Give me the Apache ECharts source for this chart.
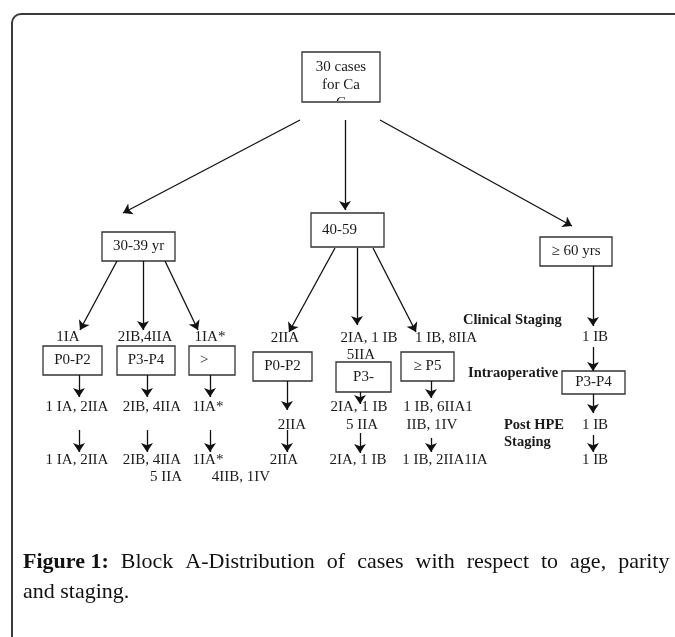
<!DOCTYPE html>
<html>
<head>
<meta charset="utf-8">
<script src="https://cdn.jsdelivr.net/npm/echarts@6/dist/echarts.min.js"></script>
<style>
  html, body { margin: 0; padding: 0; background: #fff; }
  #chart { width: 675px; height: 637px; }
</style>
</head>
<body>
<div id="chart"></div>
<script>
// diagram coordinates: x to the right, y downwards (page units)
const boxes = [
  // x1, y1, x2, y2, text, align
  [302, 52, 380, 102, '30 cases\nfor Ca\nC', 'center'],
  [102, 232, 175, 261, '30-39 yr', 'center'],
  [311, 213, 384, 247, '40-59', 'left'],
  [540, 237, 612, 266, '≥ 60 yrs', 'center'],
  [43, 346, 102, 375, 'P0-P2', 'center'],
  [117, 346, 175, 375, 'P3-P4', 'center'],
  [189, 346, 235, 375, '>', 'left'],
  [253, 352, 312, 381, 'P0-P2', 'center'],
  [336, 362, 391, 392, 'P3-', 'center'],
  [401, 352, 454, 381, '≥ P5', 'center'],
  [562, 371, 625, 394, 'P3-P4', 'center']
];

const arrows = [
  // from x, from y, to x, to y
  [300, 120, 123, 213],
  [345, 120, 345, 210],
  [380, 120, 572, 226],
  [117, 261, 80, 330],
  [143, 261, 143, 330],
  [165, 261, 198, 330],
  [335, 248, 289, 332],
  [357, 248, 357, 325],
  [373, 248, 416, 332],
  [593, 266, 593, 326],
  [593, 347, 593, 371],
  [593, 394, 593, 413],
  [593, 435, 593, 452],
  [79, 375, 79, 397],
  [147, 375, 147, 397],
  [210, 375, 210, 397],
  [79, 430, 79, 452],
  [147, 430, 147, 452],
  [210, 430, 210, 452],
  [287, 381, 287, 410],
  [287, 430, 287, 452],
  [360, 392, 360, 404],
  [360, 433, 360, 453],
  [431, 381, 431, 398],
  [431, 438, 431, 452]
];

const labels = [
  // x, y, text
  [68, 337, '1IA'],
  [145, 337, '2IB,4IIA'],
  [210, 337, '1IA*'],
  [285, 338, '2IIA'],
  [369, 338, '2IA, 1 IB'],
  [361, 355, '5IIA'],
  [446, 338, '1 IB, 8IIA'],
  [595, 337, '1 IB'],
  [77, 407, '1 IA, 2IIA'],
  [152, 407, '2IB, 4IIA'],
  [208, 407, '1IA*'],
  [292, 425, '2IIA'],
  [359, 407, '2IA, 1 IB'],
  [362, 425, '5 IIA'],
  [438, 407, '1 IB, 6IIA1'],
  [432, 425, 'IIB, 1IV'],
  [595, 425, '1 IB'],
  [77, 460, '1 IA, 2IIA'],
  [152, 460, '2IB, 4IIA'],
  [208, 460, '1IA*'],
  [284, 460, '2IIA'],
  [166, 477, '5 IIA'],
  [241, 477, '4IIB, 1IV'],
  [358, 460, '2IA, 1 IB'],
  [445, 460, '1 IB, 2IIA1IA'],
  [595, 460, '1 IB']
];

const stageLabels = [
  // x (left), y, text
  [463, 320, 'Clinical Staging'],
  [468, 373, 'Intraoperative'],
  [504, 425, 'Post HPE'],
  [504, 442, 'Staging']
];

const captionBold = 'Figure 1:';
const captionLine1 = 'Block A-Distribution of cases with respect to age, parity';
const captionLine2 = 'and staging.';

const FONT = '"Liberation Serif", "Times New Roman", serif';
const INK = '#1a1a1a';

// justified first caption line: words joined by wide spacer segments
const captionText =
  '{b|' + captionBold + '}{sp| }' +
  captionLine1.split(' ').map(w => '{n|' + w + '}').join('{sp| }') +
  '\n{n|' + captionLine2 + '}';

const chart = echarts.init(document.getElementById('chart'));

const option = {
  animation: false,
  backgroundColor: '#fff',
  grid: { left: 0, right: 0, top: 0, bottom: 0 },
  xAxis: { type: 'value', min: 0, max: 675, show: false },
  yAxis: { type: 'value', min: 0, max: 637, inverse: true, show: false },
  graphic: [
    {
      type: 'rect',
      shape: { x: 12, y: 14, width: 700, height: 660, r: [9, 0, 0, 0] },
      style: { fill: 'none', stroke: '#3a3a3a', lineWidth: 2 },
      z: 10
    },
    {
      type: 'text',
      left: 23,
      top: 551,
      style: {
        text: captionText,
        rich: {
          b: { fontFamily: FONT, fontSize: 22, fontWeight: 'bold', fill: '#111', lineHeight: 30 },
          n: { fontFamily: FONT, fontSize: 22, fill: '#111', lineHeight: 30 },
          sp: { fontFamily: FONT, fontSize: 22, width: 12, lineHeight: 30 }
        }
      },
      z: 10
    }
  ],
  series: [
    {
      type: 'custom',
      coordinateSystem: 'cartesian2d',
      data: boxes,
      renderItem: function (params, api) {
        const d = boxes[params.dataIndex];
        const p1 = api.coord([d[0], d[1]]);
        const p2 = api.coord([d[2], d[3]]);
        const w = p2[0] - p1[0];
        const h = p2[1] - p1[1];
        const multi = d[4].indexOf('\n') >= 0;
        return {
          type: 'group',
          children: [
            {
              type: 'rect',
              shape: { x: p1[0], y: p1[1], width: w, height: h },
              style: { fill: '#fff', stroke: '#333', lineWidth: 1.3 }
            },
            {
              type: 'group',
              clipPath: {
                type: 'rect',
                shape: { x: p1[0], y: p1[1], width: w, height: h - 1 }
              },
              children: [{
                type: 'text',
                x: d[5] === 'left' ? p1[0] + 11 : p1[0] + w / 2,
                y: multi ? p1[1] + 6 : p1[1] + h / 2,
                style: {
                  text: d[4],
                  fill: INK,
                  fontFamily: FONT,
                  fontSize: 15,
                  lineHeight: 18,
                  align: d[5] === 'left' ? 'left' : 'center',
                  verticalAlign: multi ? 'top' : 'middle'
                }
              }]
            }
          ]
        };
      },
      z: 3
    },
    {
      type: 'lines',
      coordinateSystem: 'cartesian2d',
      data: arrows.map(a => ({ coords: [[a[0], a[1]], [a[2], a[3]]] })),
      symbol: ['none', 'arrow'],
      symbolSize: [0, 9],
      lineStyle: { color: '#111', width: 1.3, opacity: 1 },
      z: 4
    },
    {
      type: 'custom',
      coordinateSystem: 'cartesian2d',
      data: labels,
      renderItem: function (params, api) {
        const d = labels[params.dataIndex];
        const p = api.coord([d[0], d[1]]);
        return {
          type: 'text',
          x: p[0],
          y: p[1],
          style: {
            text: d[2],
            fill: INK,
            fontFamily: FONT,
            fontSize: 15,
            align: 'center',
            verticalAlign: 'middle'
          }
        };
      },
      z: 5
    },
    {
      type: 'custom',
      coordinateSystem: 'cartesian2d',
      data: stageLabels,
      renderItem: function (params, api) {
        const d = stageLabels[params.dataIndex];
        const p = api.coord([d[0], d[1]]);
        return {
          type: 'text',
          x: p[0],
          y: p[1],
          style: {
            text: d[2],
            fill: INK,
            fontFamily: FONT,
            fontSize: 14.5,
            fontWeight: 'bold',
            align: 'left',
            verticalAlign: 'middle'
          }
        };
      },
      z: 5
    }
  ]
};

chart.setOption(option);
</script>
</body>
</html>
